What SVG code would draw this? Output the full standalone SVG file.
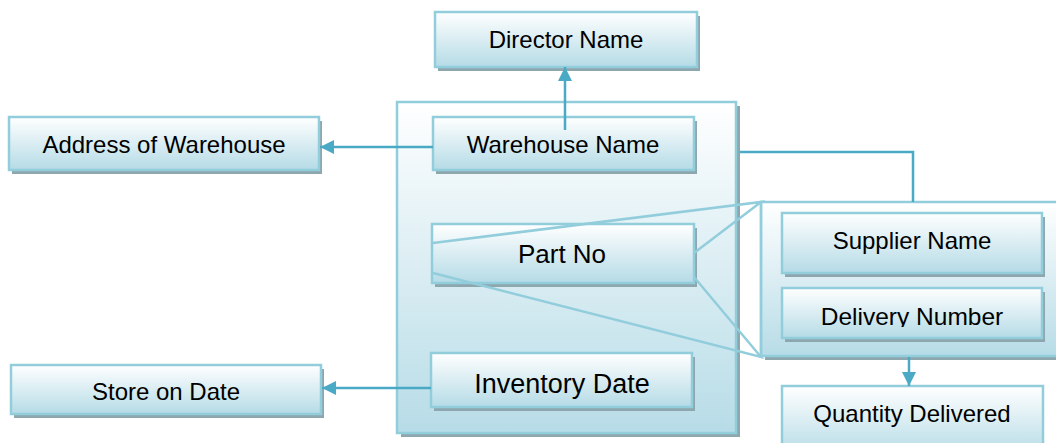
<svg xmlns="http://www.w3.org/2000/svg" width="1056" height="443" viewBox="0 0 1056 443">
<defs>
<linearGradient id="g" x1="0" y1="0" x2="0" y2="1">
<stop offset="0" stop-color="#ffffff"/>
<stop offset="1" stop-color="#b5dbe6"/>
</linearGradient>
<linearGradient id="gb" x1="0" y1="0" x2="0" y2="1">
<stop offset="0" stop-color="#ffffff"/>
<stop offset="1" stop-color="#b7dce7"/>
</linearGradient>
<marker id="ah" viewBox="0 0 10 10" refX="10" refY="5" markerWidth="5.6" markerHeight="5.6" orient="auto" markerUnits="strokeWidth">
<path d="M0,0 L10,5 L0,10 Z" fill="#4aaac5"/>
</marker>
<clipPath id="clipDN"><rect x="780" y="286" width="270" height="41"/></clipPath>
</defs>
<style>
.sh{fill:#8ea6ad}
.bx{fill:url(#g);stroke:#92cddc;stroke-width:2.5}
.big{fill:url(#gb);stroke:#92cddc;stroke-width:2.5}
.t{font-family:"Liberation Sans",Arial,sans-serif;font-size:24px;fill:#000;text-anchor:middle}
.c{stroke:#4aaac5;stroke-width:2.5;fill:none}
.l{stroke:#92cddc;stroke-width:2.5;fill:none}
</style>
<rect width="1056" height="443" fill="#ffffff"/>

<g id="warehouse-group">
<rect class="sh" x="401" y="106" width="339" height="331"/>
<rect class="big" x="397" y="102" width="339" height="331"/>
</g>
<g id="supplier-group">
<rect class="sh" x="765" y="206" width="300" height="154"/>
<rect class="big" x="761" y="202" width="300" height="154"/>
</g>

<g id="director-name">
<rect class="sh" x="438" y="16" width="262" height="55"/>
<rect class="bx" x="435" y="12" width="262" height="55"/>
<text class="t" x="566" y="48">Director Name</text>
</g>
<g id="address-of-warehouse">
<rect class="sh" x="12" y="121" width="310" height="53"/>
<rect class="bx" x="9" y="117" width="310" height="53"/>
<text class="t" x="164" y="153">Address of Warehouse</text>
</g>
<g id="warehouse-name">
<rect class="sh" x="436" y="121" width="261" height="53"/>
<rect class="bx" x="433" y="117" width="261" height="53"/>
<text class="t" x="563" y="153">Warehouse Name</text>
</g>
<g id="part-no">
<rect class="sh" x="435" y="228" width="262" height="59"/>
<rect class="bx" x="432" y="224" width="262" height="59"/>
<text class="t" x="562" y="263" style="font-size:26px">Part No</text>
</g>
<g id="inventory-date">
<rect class="sh" x="434" y="357" width="261" height="54"/>
<rect class="bx" x="431" y="353" width="261" height="54"/>
<text class="t" x="562" y="393" style="font-size:27px">Inventory Date</text>
</g>
<g id="store-on-date">
<rect class="sh" x="14" y="369" width="310" height="49"/>
<rect class="bx" x="11" y="365" width="310" height="49"/>
<text class="t" x="166" y="400">Store on Date</text>
</g>
<g id="supplier-name">
<rect class="sh" x="785" y="217" width="260" height="60"/>
<rect class="bx" x="782" y="213" width="260" height="60"/>
<text class="t" x="912" y="249">Supplier Name</text>
</g>
<g id="delivery-number">
<rect class="sh" x="785" y="292" width="260" height="50"/>
<rect class="bx" x="782" y="288" width="260" height="50"/>
<text class="t" x="912" y="325" style="font-size:24.5px" clip-path="url(#clipDN)">Delivery Number</text>
</g>
<g id="quantity-delivered">
<rect class="bx" x="782" y="386" width="261" height="70"/>
<text class="t" x="912" y="422">Quantity Delivered</text>
</g>

<g id="connectors">
<line class="c" x1="565" y1="130" x2="565" y2="67" marker-end="url(#ah)"/>
<line class="c" x1="433" y1="147" x2="320" y2="147" marker-end="url(#ah)"/>
<line class="c" x1="431" y1="388" x2="322" y2="388" marker-end="url(#ah)"/>
<polyline class="c" points="740,152 913,152 913,202"/>
<line class="c" x1="909" y1="357" x2="909" y2="386" marker-end="url(#ah)"/>
<polyline class="l" points="433,243 761,202 694,253"/>
<polyline class="l" points="433,273 761,357 694,277"/>
<line class="l" x1="761" y1="202" x2="761" y2="357"/>
</g>
</svg>
